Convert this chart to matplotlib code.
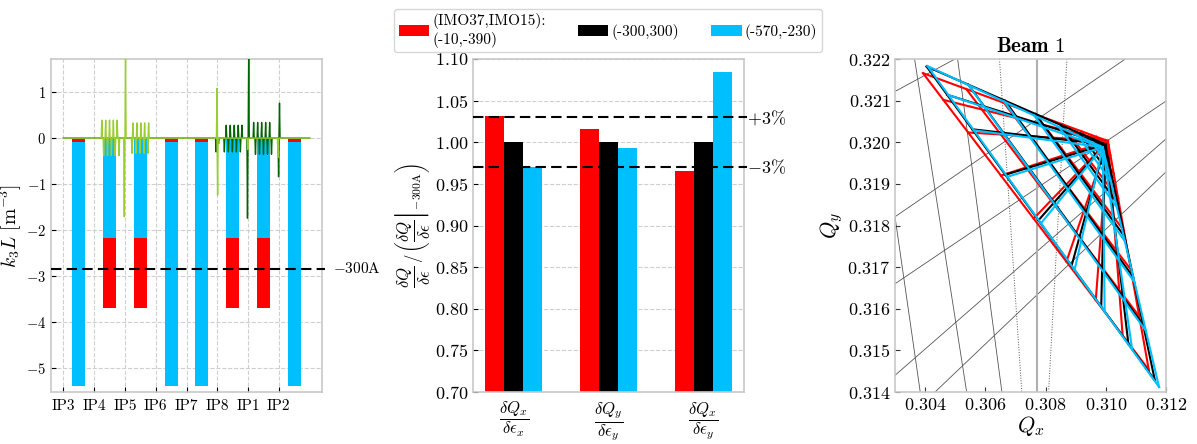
import numpy as np
import matplotlib
matplotlib.use("Agg")
import matplotlib.pyplot as plt
from matplotlib.patches import Patch
from matplotlib.ticker import FormatStrFormatter
from matplotlib.transforms import blended_transform_factory

plt.rcParams.update({
    "font.family": "serif",
    "font.serif": ["cmr10"],
    "mathtext.fontset": "cm",
    "axes.formatter.use_mathtext": True,
    "axes.unicode_minus": True,
    "axes.edgecolor": "#c8c8c8",
    "axes.linewidth": 1.2,
    "xtick.direction": "in",
    "ytick.direction": "in",
    "xtick.major.size": 3.5,
    "ytick.major.size": 3.5,
    "grid.color": "#cfcfcf",
    "grid.linestyle": "--",
    "grid.linewidth": 0.8,
})

# ---------------------------------------------------------------- settings
setting_labels = ["(IMO37,IMO15):\n(-10,-390)", "(-300,300)", "(-570,-230)"]
setting_colors = ["#ff0000", "#000000", "#00bfff"]
imo37_current = [-10, -300, -570]
imo15_current = [-390, 300, -230]
k3l_per_amp = 0.00947  # integrated octupole strength per ampere [m^-3 / A]

# ---------------------------------------------------------------- ring layout
ip_names = ["IP3", "IP4", "IP5", "IP6", "IP7", "IP8", "IP1", "IP2"]
arc_names = ["34", "45", "56", "67", "78", "81", "12", "23"]
arc_circuit = ["IMO37", "IMO15", "IMO15", "IMO37", "IMO37", "IMO15", "IMO15", "IMO37"]

# insertion-region octupolar components (position in IP units, k3L)
ir_a_s = [1.25, 1.31, 1.375, 1.435, 1.50, 1.56, 1.625, 1.685, 1.75, 1.81,
          1.98, 2.02,
          2.23, 2.26, 2.36, 2.39, 2.49, 2.52, 2.62, 2.64, 2.75, 2.77,
          4.99, 5.01, 5.99, 6.97]
ir_a_k = [0.39, -0.38, 0.39, -0.38, 0.39, -0.38, 0.39, -0.38, 0.39, -0.38,
          -1.71, 1.90,
          -0.33, 0.33, -0.33, 0.33, -0.33, 0.33, -0.33, 0.33, -0.33, 0.33,
          1.08, -1.24, -0.25, -0.42]
ir_b_s = [4.96, 5.04,
          5.23, 5.29, 5.36, 5.42, 5.49, 5.55, 5.62, 5.68, 5.75, 5.80,
          5.98, 6.02,
          6.18, 6.24, 6.31, 6.37, 6.44, 6.50, 6.57, 6.63, 6.70, 6.76,
          6.99, 7.02]
ir_b_k = [-0.30, -0.12,
          -0.30, 0.28, -0.30, 0.28, -0.30, 0.28, -0.30, 0.28, -0.30, 0.28,
          -1.74, 1.90,
          0.34, -0.35, 0.34, -0.35, 0.34, -0.35, 0.34, -0.35, 0.34, -0.35,
          -0.84, 0.76]

# ---------------------------------------------------------------- detuning ratios
ratio_labels = [r"$\dfrac{\delta Q_x}{\delta\epsilon_x}$",
                r"$\dfrac{\delta Q_y}{\delta\epsilon_y}$",
                r"$\dfrac{\delta Q_x}{\delta\epsilon_y}$"]
ratio_values = [
    [1.032, 1.016, 0.965],
    [1.000, 1.000, 1.000],
    [0.970, 0.993, 1.084],
]

# ---------------------------------------------------------------- footprints
# tune at the smallest amplitude, at the largest horizontal and vertical action
fp_q0 = [(0.31007, 0.32003), (0.30998, 0.31995), (0.30990, 0.31988)]
fp_qh = [(0.30393, 0.32166), (0.30405, 0.32182), (0.30408, 0.32183)]
fp_qv = [(0.31143, 0.31453), (0.31163, 0.31428), (0.31177, 0.31412)]
fp_action = [0.0, 0.016, 0.062, 0.141, 0.25, 0.391, 0.562, 0.766, 1.0]
fp_angle = [0.0, 0.09, 0.2, 0.345, 0.49, 0.635, 0.765, 0.884, 1.0]

# resonance lines of the tune diagram: two points on each line and style
reso_lines = [
    ((0.30300, 0.32122), (0.30499, 0.32200), "-", "#555555", 0.6),
    ((0.30300, 0.31821), (0.31065, 0.32200), "-", "#555555", 0.6),
    ((0.30300, 0.31660), (0.31114, 0.32057), "-", "#555555", 0.6),
    ((0.30300, 0.31440), (0.30815, 0.31765), "-", "#555555", 0.6),
    ((0.30433, 0.31400), (0.30858, 0.31693), "-", "#555555", 0.6),
    ((0.30300, 0.31821), (0.30383, 0.31404), "-", "#555555", 0.6),
    ((0.30365, 0.32200), (0.30538, 0.31400), "-", "#555555", 0.6),
    ((0.30508, 0.32200), (0.30655, 0.31400), "-", "#555555", 0.6),
    ((0.30647, 0.32200), (0.30721, 0.31400), ":", "#555555", 0.7),
    ((0.30770, 0.32200), (0.30770, 0.31400), "-", "#b0b0b0", 1.5),
    ((0.30871, 0.32200), (0.30810, 0.31400), ":", "#555555", 0.7),
]

W, H = 1197, 444
fig = plt.figure(figsize=(W / 100, H / 100), dpi=100)


def axes_px(x0, x1, y0, y1):
    return fig.add_axes([x0 / W, 1 - y1 / H, (x1 - x0) / W, (y1 - y0) / H])


def spike_profile(s_list, k_list, s_end, half=0.018):
    order = np.argsort(s_list)
    xs, ys = [0.0], [0.0]
    for i in order:
        s, k = s_list[i], k_list[i]
        xs += [s - half, s, s + half]
        ys += [0.0, k, 0.0]
    xs.append(s_end)
    ys.append(0.0)
    return xs, ys


# ================================================================ left panel
ax1 = axes_px(51, 322, 59, 392)
ax1.set_axisbelow(True)
ax1.grid(True)
arc_pos = np.arange(len(arc_names)) + 0.5
for i, pos in enumerate(arc_pos):
    bars = []
    for j in (0, 2):
        cur = imo37_current[j] if arc_circuit[i] == "IMO37" else imo15_current[j]
        bars.append((k3l_per_amp * cur, setting_colors[j]))
    bars.sort(key=lambda b: -abs(b[0]))
    for z, (val, col) in enumerate(bars):
        ax1.bar(pos, val, width=0.42, color=col, zorder=2 + z, linewidth=0)

xb, yb = spike_profile(ir_b_s, ir_b_k, len(ip_names))
ax1.plot(xb, yb, color="#006400", lw=1.0, zorder=5)
xa, ya = spike_profile(ir_a_s, ir_a_k, len(ip_names))
ax1.plot(xa, ya, color="#9acd32", lw=1.0, zorder=6)

ref_k3l = k3l_per_amp * imo37_current[1]
ax1.axhline(ref_k3l, xmin=0, xmax=1.012, color="k", ls="--", lw=1.5,
            dashes=(5, 2.5), clip_on=False, zorder=7)
tr1 = blended_transform_factory(ax1.transAxes, ax1.transData)
ax1.text(1.04, ref_k3l, r"$-300$A", transform=tr1, ha="left", va="center",
         fontsize=11)

ax1.set_xlim(-0.4, 8.4)
ax1.set_ylim(-5.52, 1.72)
ax1.set_xticks(np.arange(len(ip_names)))
ax1.set_xticklabels(ip_names)
ax1.set_yticks([-5, -4, -3, -2, -1, 0, 1])
ax1.tick_params(axis="x", labelsize=11, pad=5)
ax1.tick_params(axis="y", labelsize=10.5)
ax1.set_ylabel(r"$k_3L$ [m$^{-3}$]", fontsize=14)
ax1.yaxis.set_label_coords(-0.1, 0.5)

# ================================================================ middle panel
ax2 = axes_px(473, 744, 59, 392)
ax2.set_axisbelow(True)
ax2.grid(True, axis="y")
xg = np.arange(len(ratio_labels))
offsets = [-0.2, 0.0, 0.2]
for j in range(3):
    ax2.bar(xg + offsets[j], ratio_values[j], width=0.2,
            color=setting_colors[j], linewidth=0, zorder=2)
tr2 = blended_transform_factory(ax2.transAxes, ax2.transData)
for lvl, txt in [(1.03, r"$+3\%$"), (0.97, r"$-3\%$")]:
    ax2.axhline(lvl, xmin=0, xmax=1.012, color="k", ls="--", lw=1.5,
                dashes=(5, 2.5), clip_on=False, zorder=4)
    ax2.text(1.012, lvl, txt, transform=tr2, ha="left", va="center",
             fontsize=13)
ax2.set_ylim(0.70, 1.10)
ax2.set_yticks(np.arange(0.70, 1.101, 0.05))
ax2.set_xticks(xg)
ax2.set_xticklabels(ratio_labels, fontsize=12)
ax2.tick_params(axis="y", labelsize=13)
ax2.tick_params(axis="x", length=0, pad=6)
ax2.set_ylabel(r"$\dfrac{\delta Q}{\delta\epsilon}\,/\,\left(\left.\dfrac{\delta Q}{\delta\epsilon}\right|_{-300\mathrm{A}}\right)$",
               fontsize=12)
ax2.yaxis.set_label_coords(-0.15, 0.5)

# ================================================================ right panel
ax3 = axes_px(895, 1166, 59, 392)
for p1, p2, ls, col, lw in reso_lines:
    ax3.axline(p1, p2, ls=ls, color=col, lw=lw, zorder=1)

act = np.array(fp_action)
ang = np.array(fp_angle)
for j in range(3):
    q0 = np.array(fp_q0[j])
    dh = np.array(fp_qh[j]) - q0
    dv = np.array(fp_qv[j]) - q0
    grid = q0 + act[:, None, None] * ((1 - ang)[None, :, None] * dh
                                      + ang[None, :, None] * dv)
    for a in range(1, len(act)):
        ax3.plot(grid[a, :, 0], grid[a, :, 1], color=setting_colors[j],
                 lw=1.5, zorder=3 + j)
    for t in range(len(ang)):
        ax3.plot(grid[:, t, 0], grid[:, t, 1], color=setting_colors[j],
                 lw=1.5, zorder=3 + j)

ax3.set_xlim(0.303, 0.312)
ax3.set_ylim(0.314, 0.322)
ax3.set_xticks([0.304, 0.306, 0.308, 0.310, 0.312])
ax3.set_yticks(np.arange(0.314, 0.3221, 0.001))
ax3.xaxis.set_major_formatter(FormatStrFormatter(r"$\mathdefault{%.3f}$"))
ax3.yaxis.set_major_formatter(FormatStrFormatter(r"$\mathdefault{%.3f}$"))
ax3.tick_params(labelsize=13, colors="k")
ax3.tick_params(axis="both", which="both", color="#333333")
ax3.set_xlabel(r"$Q_x$", fontsize=16, labelpad=1)
ax3.set_ylabel(r"$Q_y$", fontsize=16, labelpad=2)
ax3.set_title(r"$\mathbf{Beam}$ $\mathbf{1}$", fontsize=15, pad=5)

# ================================================================ legend
handles = [Patch(facecolor=c, edgecolor="none") for c in setting_colors]
fig.legend(handles, setting_labels, loc="upper center",
           bbox_to_anchor=(608 / W, 0.998), ncol=3, fontsize=11,
           handlelength=2.0, handleheight=0.75, handletextpad=0.2,
           columnspacing=2.1, frameon=True, edgecolor="#cccccc",
           borderpad=0.3, labelspacing=0.2)

fig.savefig("out.png", dpi=100)
